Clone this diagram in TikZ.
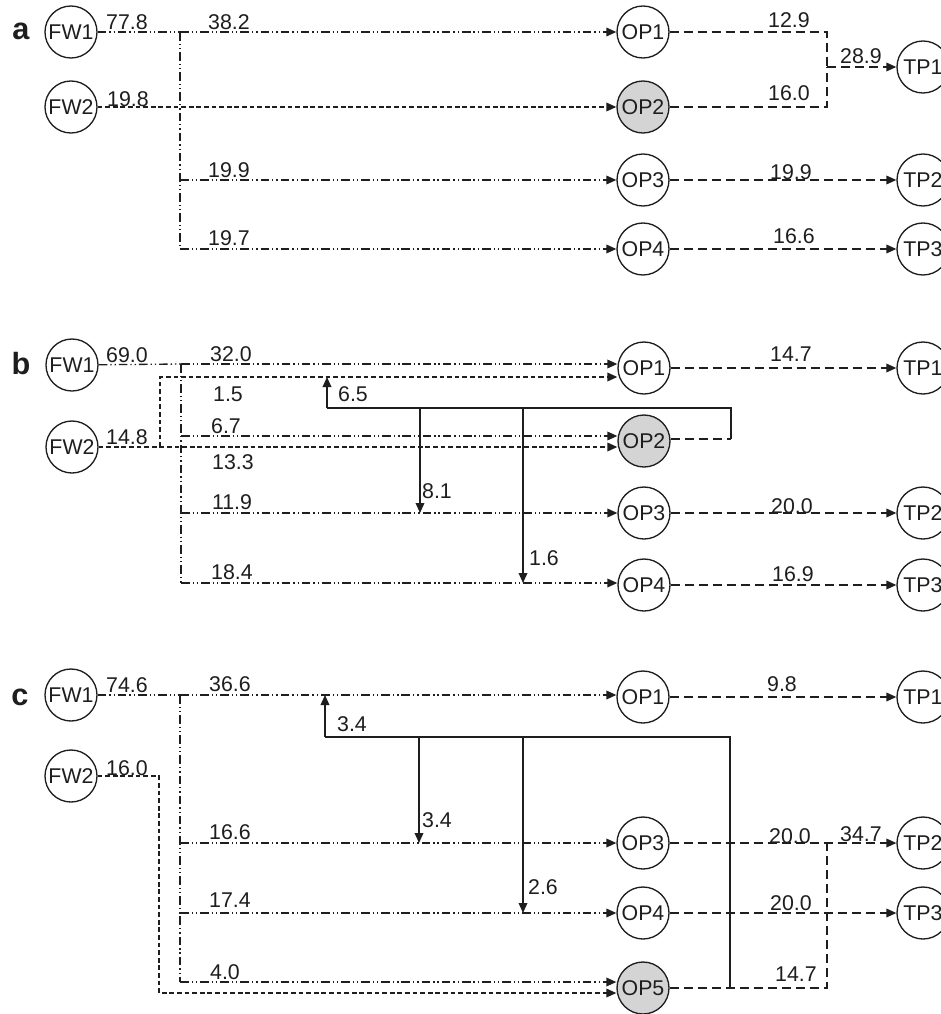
\documentclass[tikz,border=0pt]{standalone}
\usepackage{fontspec}
\setmainfont{Liberation Sans}
\usetikzlibrary{arrows.meta}
\definecolor{ink}{RGB}{30,30,30}
\definecolor{opgray}{RGB}{212,212,212}
\begin{document}
\begin{tikzpicture}[x=0.75pt,y=-0.75pt,
  every node/.style={font=\fontsize{16}{18}\selectfont, text=ink},
  unit/.style={circle, draw=ink, line width=1pt, minimum size=39pt, inner sep=0pt},
  unitg/.style={unit, fill=opgray},
  num/.style={inner sep=0pt},
  tag/.style={font=\fontsize{23}{26}\selectfont\bfseries, inner sep=0pt},
  flow/.style={draw=ink, line width=1pt},
  ddot/.style={flow, dash pattern=on 6.5pt off 2.2pt on 1pt off 2.2pt on 1pt off 2.2pt},
  fdash/.style={flow, dash pattern=on 3.5pt off 2.2pt},
  ldash/.style={flow, dash pattern=on 7pt off 3.5pt},
  tip/.style={-{Triangle[length=7.5pt,width=6.5pt]}}]
\useasboundingbox (0,0) rectangle (941,1014);
\fill[white] (0,0) rectangle (941,1014);
\clip (0,0) rectangle (941,1014);

% ---------------- panel a ----------------
\node[tag] (ta) at (21,31) {a};
\node[unit] (aFW1) at (71,32) {FW1};
\node[unit] (aFW2) at (71,107) {FW2};
\node[unit] (aOP1) at (643,32) {OP1};
\node[unitg] (aOP2) at (643,107) {OP2};
\node[unit] (aOP3) at (643,180) {OP3};
\node[unit] (aOP4) at (643,249) {OP4};
\node[unit] (aTP1) at (923,67) {TP1};
\node[unit] (aTP2) at (923,180) {TP2};
\node[unit] (aTP3) at (923,249) {TP3};
\coordinate (aS1) at (180,32);
\coordinate (aS3) at (180,180);
\coordinate (aS4) at (180,249);
\coordinate (aM) at (827,67);
\draw[ddot] (aFW1) -- (aS1);
\draw[ddot,tip] (aS1) -- (aOP1);
\draw[ddot] (aS1) -- (aS4);
\draw[ddot,tip] (aS3) -- (aOP3);
\draw[ddot,tip] (aS4) -- (aOP4);
\draw[fdash,tip] (aFW2) -- (aOP2);
\draw[ldash] (aOP1) -| (aM);
\draw[ldash] (aOP2) -| (aM);
\draw[ldash,tip] (aM) -- (aTP1);
\draw[ldash,tip] (aOP3) -- (aTP2);
\draw[ldash,tip] (aOP4) -- (aTP3);
\node[num] (na1) at (127,22) {77.8};
\node[num] (na2) at (229,22) {38.2};
\node[num] (na3) at (128,99) {19.8};
\node[num] (na4) at (229,170) {19.9};
\node[num] (na5) at (229,238) {19.7};
\node[num] (na6) at (789,20) {12.9};
\node[num] (na7) at (789,93) {16.0};
\node[num] (na8) at (861,56) {28.9};
\node[num] (na9) at (791,172) {19.9};
\node[num] (na10) at (794,236) {16.6};

% ---------------- panel b ----------------
\node[tag] (tb) at (21,364) {b};
\node[unit] (bFW1) at (72,365) {FW1};
\node[unit] (bFW2) at (72,447) {FW2};
\node[unit] (bOP1) at (644,368) {OP1};
\node[unitg] (bOP2) at (644,441) {OP2};
\node[unit] (bOP3) at (644,513) {OP3};
\node[unit] (bOP4) at (644,585) {OP4};
\node[unit] (bTP1) at (923,368) {TP1};
\node[unit] (bTP2) at (923,513) {TP2};
\node[unit] (bTP3) at (923,585) {TP3};
\coordinate (bS1) at (181,364);
\coordinate (bS2) at (181,436);
\coordinate (bS3) at (181,513);
\coordinate (bS4) at (181,583);
\coordinate (bK1) at (160,447);
\coordinate (bK2) at (160,377);
\coordinate (bR1) at (731,439);
\coordinate (bR2) at (731,408);
\coordinate (bR3) at (327,408);
\coordinate (bR4) at (327,377);
\coordinate (bD1) at (420,408);
\coordinate (bD2) at (523,408);
\draw[ddot] (bFW1) -- (bS1);
\draw[ddot,tip] (bS1) -- (bS1 -| bOP1.west);
\draw[ddot] (bS1) -- (bS4);
\draw[ddot,tip] (bS2) -- (bS2 -| bOP2.west);
\draw[ddot,tip] (bS3) -- (bOP3);
\draw[ddot,tip] (bS4) -- (bS4 -| bOP4.west);
\draw[fdash,tip] (bFW2) -- (bFW2 -| bOP2.west);
\draw[fdash,tip] (bK1) -- (bK2) -- (bK2 -| bOP1.west);
\draw[ldash] (bR1 -| bOP2.east) -- (bR1);
\draw[flow] (bR1) -- (bR2) -- (bR3);
\draw[flow,tip] (bR3) -- (bR4);
\draw[flow,tip] (bD1) -- (bD1 |- bS3);
\draw[flow,tip] (bD2) -- (bD2 |- bS4);
\draw[ldash,tip] (bOP1) -- (bTP1);
\draw[ldash,tip] (bOP3) -- (bTP2);
\draw[ldash,tip] (bOP4) -- (bTP3);
\node[num] (nb1) at (127,355) {69.0};
\node[num] (nb2) at (231,354) {32.0};
\node[num] (nb3) at (228,394) {1.5};
\node[num] (nb4) at (226,426) {6.7};
\node[num] (nb5) at (233,462) {13.3};
\node[num] (nb6) at (232,502) {11.9};
\node[num] (nb7) at (232,572) {18.4};
\node[num] (nb8) at (127,437) {14.8};
\node[num] (nb9) at (353,394) {6.5};
\node[num] (nb10) at (437,491) {8.1};
\node[num] (nb11) at (544,558) {1.6};
\node[num] (nb12) at (791,354) {14.7};
\node[num] (nb13) at (792,506) {20.0};
\node[num] (nb14) at (793,574) {16.9};

% ---------------- panel c ----------------
\node[tag] (tc) at (20,697) {c};
\node[unit] (cFW1) at (71,695) {FW1};
\node[unit] (cFW2) at (71,776) {FW2};
\node[unit] (cOP1) at (643,697) {OP1};
\node[unit] (cOP3) at (643,843) {OP3};
\node[unit] (cOP4) at (643,913) {OP4};
\node[unitg] (cOP5) at (643,988) {OP5};
\node[unit] (cTP1) at (923,697) {TP1};
\node[unit] (cTP2) at (923,843) {TP2};
\node[unit] (cTP3) at (923,913) {TP3};
\coordinate (cS1) at (180,695);
\coordinate (cS3) at (180,843);
\coordinate (cS4) at (180,913);
\coordinate (cS5) at (180,982);
\coordinate (cK1) at (159,776);
\coordinate (cK2) at (159,993);
\coordinate (cJ1) at (827,988);
\coordinate (cJ2) at (827,843);
\coordinate (cR1) at (730,988);
\coordinate (cR2) at (730,737);
\coordinate (cR3) at (325,737);
\coordinate (cR4) at (325,695);
\coordinate (cD1) at (419,737);
\coordinate (cD2) at (523,737);
\draw[ddot] (cFW1) -- (cS1);
\draw[ddot,tip] (cS1) -- (cS1 -| cOP1.west);
\draw[ddot] (cS1) -- (cS5);
\draw[ddot,tip] (cS3) -- (cOP3);
\draw[ddot,tip] (cS4) -- (cOP4);
\draw[ddot,tip] (cS5) -- (cS5 -| cOP5.west);
\draw[fdash,tip] (cFW2) -- (cK1) -- (cK2) -- (cK2 -| cOP5.west);
\draw[ldash,tip] (cOP1) -- (cTP1);
\draw[ldash,tip] (cOP3) -- (cTP2);
\draw[ldash,tip] (cOP4) -- (cTP3);
\draw[ldash] (cOP5) -- (cJ1) -- (cJ2);
\draw[flow] (cR1) -- (cR2) -- (cR3);
\draw[flow,tip] (cR3) -- (cR4);
\draw[flow,tip] (cD1) -- (cD1 |- cS3);
\draw[flow,tip] (cD2) -- (cD2 |- cS4);
\node[num] (nc1) at (127,685) {74.6};
\node[num] (nc2) at (230,684) {36.6};
\node[num] (nc3) at (127,768) {16.0};
\node[num] (nc4) at (230,832) {16.6};
\node[num] (nc5) at (230,900) {17.4};
\node[num] (nc6) at (225,972) {4.0};
\node[num] (nc7) at (352,724) {3.4};
\node[num] (nc8) at (437,820) {3.4};
\node[num] (nc9) at (543,887) {2.6};
\node[num] (nc10) at (782,684) {9.8};
\node[num] (nc11) at (790,836) {20.0};
\node[num] (nc12) at (861,834) {34.7};
\node[num] (nc13) at (791,903) {20.0};
\node[num] (nc14) at (796,974) {14.7};
\end{tikzpicture}
\end{document}
